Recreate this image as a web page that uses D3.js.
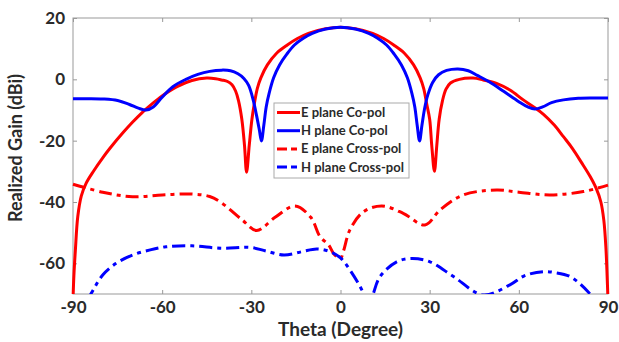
<!DOCTYPE html>
<html><head><meta charset="utf-8">
<script src="https://cdn.jsdelivr.net/npm/d3@7"></script>
<style>body{margin:0;background:#fff}</style>
</head><body><svg id="c" width="619" height="342"></svg>
<script>
const xTicks = [-90, -60, -30, 0, 30, 60, 90];
const yTicks = [-60, -40, -20, 0, 20];
const seriesNames = ["E plane Co-pol", "H plane Co-pol", "E plane Cross-pol", "H plane Cross-pol"];

const eCoTheta = [-90,-89.7,-89.2,-88.4,-87.2,-85.6,-83,-80,-77.5,-73,-70,-66.9,-63,-60.7,-55,-50,-45,-42,-40,-38,-36.5,-35.3,-34.3,-33.2,-32.3,-31.6,-30.7,-29.8,-29,-28,-26.8,-24.6,-21.5,-17.9,-14.5,-10.8,-5,0,5,10.8,14.5,17.9,21.5,24.6,26.8,28,29,30,30.7,31.6,32.4,33.2,34.3,35.5,37,40,44.6,48,52.5,57,61.5,65,68.3,72,75,78,81,84,86,87.6,88.6,89.3,89.7,90];
const eCoGain  = [-72,-64,-55.7,-44.8,-38,-33.9,-29.8,-25.6,-22.4,-17.2,-14,-11,-7.7,-5.9,-2.4,-0.4,0.4,0.2,-0.2,-0.7,-1.8,-3.8,-7,-13,-21.5,-30.3,-21.5,-13,-8,-3,0.5,4.7,8.5,11.2,13.3,15,16.5,17,16.5,15,13.3,11.2,8.5,4.7,0.5,-3,-8,-13,-21.5,-30,-21.5,-13,-7,-3.2,-1.2,0,0.4,-0.2,-1.3,-3.5,-6.7,-9,-11.4,-15,-18.7,-22.5,-27,-31.7,-35.5,-40,-46,-55,-64,-72];

const hCoTheta = [-90,-85,-80,-75,-71,-68,-65.4,-63,-60,-56.4,-52,-48,-44,-40,-37,-34.5,-32.5,-30.9,-29.3,-28.2,-27.3,-26.6,-25.8,-25,-24,-22.5,-20.5,-18,-15.5,-12.5,-9.5,-5,0,5,9.5,12.5,15.5,18,20.5,22.5,24,25,25.8,26.6,27.4,28.3,29.4,31,33,35.7,39.5,43,46,50,55,60,63,65.4,68,71,75,80,85,90];
const hCoGain  = [-6.3,-6.3,-6.4,-6.9,-8.2,-9.4,-10,-9,-5.8,-2.4,0,1.6,2.6,3,2.8,1.8,0.3,-2,-7,-12,-16.5,-20.1,-15,-9,-4.5,0.5,4.7,8.3,11.2,13.4,15,16.4,17,16.4,15,13.4,11.2,8.3,4.7,0.5,-4.5,-9,-15,-20.1,-15,-9.5,-5,-1,1.5,2.9,3.4,2.8,1.3,-0.8,-4,-7.3,-9,-9.7,-9,-7.6,-6.7,-6.2,-6.1,-6.1];

const eXTheta = [-90,-80,-70,-60,-50,-44,-40,-33,-28.2,-22,-15.3,-10,-6.9,-4,-2.4,-1,0,1,3.2,7.7,13.9,21.1,28.4,33.5,41.3,52.5,60,70.5,81.7,90];
const eXGain  = [-34.2,-36.8,-38.3,-37.7,-37.4,-38.2,-40.3,-45.9,-49.3,-45,-41.3,-45,-51.3,-54,-56.7,-58,-58.5,-56,-49,-43.2,-41.3,-43.7,-47.5,-42.6,-37.7,-36.1,-36.8,-37.7,-36.6,-34.5];

const hXTheta = [-90,-84,-80,-75.5,-70,-64,-58.7,-50,-40,-30.3,-25,-19,-13,-8,-3.5,0,3.2,6.6,8.8,9.6,11,13.3,18.9,24,30.1,38,48,57,62,68.2,72,77.2,84,90];
const hXGain  = [-80,-70,-63.8,-60,-57.3,-55.6,-54.6,-54.3,-55.1,-54.8,-56,-57.3,-56.2,-55.3,-56.2,-58.2,-62.2,-67.6,-72,-74,-70,-64.3,-59.5,-58.4,-59.5,-64.3,-70.3,-67,-64,-62.7,-63,-64.3,-70,-78];

const colors = ["#ff0000", "#0000ff", "#ff0000", "#0000ff"];
const dashes = [null, null, "13,5,4,5", "13,5,4,5"];

const svg = d3.select("#c");
const L = 73, T = 18, R = 608, B = 294;
const x = d3.scaleLinear().domain([-90, 90]).range([L, R]);
const y = d3.scaleLinear().domain([-70, 20]).range([B, T]);

svg.append("defs").append("clipPath").attr("id", "clip")
  .append("rect").attr("x", L - 3).attr("y", T).attr("width", R - L + 6).attr("height", B - T);

const axCol = "#999";
const font = "Lato, 'Open Sans', sans-serif";
const txtCol = "#2a2a2a";

svg.append("rect").attr("x", L).attr("y", T).attr("width", R - L).attr("height", B - T)
  .attr("fill", "none").attr("stroke", axCol).attr("stroke-width", 1);

const fmt = d => String(d);
const gx = svg.append("g").attr("transform", `translate(0,${B})`)
  .call(d3.axisBottom(x).tickValues(xTicks).tickSize(-4).tickPadding(7).tickFormat(fmt));
const gxt = svg.append("g").attr("transform", `translate(0,${T})`)
  .call(d3.axisTop(x).tickValues(xTicks).tickSize(-4).tickFormat(""));
const gy = svg.append("g").attr("transform", `translate(${L},0)`)
  .call(d3.axisLeft(y).tickValues(yTicks).tickSize(-4).tickPadding(8).tickFormat(fmt));
const gyr = svg.append("g").attr("transform", `translate(${R},0)`)
  .call(d3.axisRight(y).tickValues(yTicks).tickSize(-4).tickFormat(""));
[gx, gxt, gy, gyr].forEach(g => {
  g.select(".domain").remove();
  g.selectAll(".tick line").attr("stroke", axCol);
  g.selectAll("text").attr("fill", txtCol).style("font-family", font)
    .style("font-size", "17px").style("font-weight", "bold");
});

const series = [
  [eCoTheta, eCoGain], [hCoTheta, hCoGain], [eXTheta, eXGain], [hXTheta, hXGain]
];
const line = d3.line().x(d => x(d[0])).y(d => y(d[1])).curve(d3.curveCatmullRom.alpha(0.5));
const plot = svg.append("g").attr("clip-path", "url(#clip)");
series.forEach((s, i) => {
  const pts = s[0].map((t, k) => [t, s[1][k]]);
  plot.append("path").datum(pts).attr("d", line)
    .attr("fill", "none").attr("stroke", colors[i]).attr("stroke-width", 3)
    .attr("stroke-dasharray", dashes[i]).attr("stroke-linejoin", "round");
});

svg.append("text").attr("x", (L + R) / 2).attr("y", 335.5).attr("text-anchor", "middle")
  .attr("fill", txtCol).style("font-family", font).style("font-size", "19px").style("font-weight", "bold")
  .text("Theta (Degree)");
svg.append("text").attr("transform", `translate(22,${(T + B) / 2 - 8}) rotate(-90)`).attr("text-anchor", "middle")
  .attr("fill", txtCol).style("font-family", font).style("font-size", "18px").style("font-weight", "bold")
  .text("Realized Gain (dBi)");

const lg = svg.append("g");
lg.append("rect").attr("x", 274).attr("y", 103).attr("width", 135).attr("height", 75)
  .attr("fill", "#fff").attr("stroke", "#aaa").attr("stroke-width", 1);
seriesNames.forEach((nm, i) => {
  const yy = 112.5 + i * 18.2;
  lg.append("line").attr("x1", 277).attr("x2", 300).attr("y1", yy).attr("y2", yy)
    .attr("stroke", colors[i]).attr("stroke-width", 3)
    .attr("stroke-dasharray", dashes[i] ? "10,4,6,4" : null);
  lg.append("text").attr("x", 301).attr("y", yy).attr("dy", "0.35em")
    .attr("fill", txtCol).style("font-family", font).style("font-size", "13px").style("font-weight", "bold")
    .text(nm);
});
</script></body></html>
